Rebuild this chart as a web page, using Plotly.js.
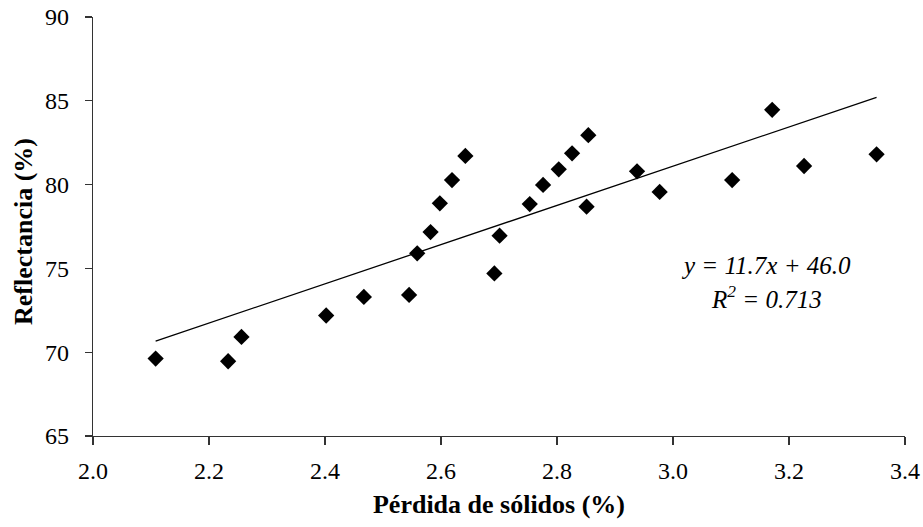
<!DOCTYPE html>
<html>
<head>
<meta charset="utf-8">
<script src="https://cdn.plot.ly/plotly-3.0.1.min.js"></script>
<style>html,body{margin:0;padding:0;background:#fff;}#chart{width:923px;height:527px;}</style>
</head>
<body>
<div id="chart"></div>
<script>
// Data
const perdidaSolidos = [2.108, 2.233, 2.256, 2.402, 2.467, 2.545, 2.559, 2.582, 2.598, 2.619, 2.642, 2.692, 2.701,
  2.753, 2.776, 2.803, 2.826, 2.854, 2.851, 2.938, 2.977, 3.102, 3.171, 3.226, 3.351];
const reflectancia = [69.62, 69.46, 70.91, 72.19, 73.30, 73.42, 75.90, 77.17, 78.88, 80.27, 81.71, 74.70, 76.95,
  78.84, 79.98, 80.91, 81.87, 82.95, 78.68, 80.79, 79.56, 80.27, 84.46, 81.11, 81.81];
const trendSlope = 11.7;
const trendIntercept = 46.0;
const rSquared = 0.713;
const xTickVals = [2.0, 2.2, 2.4, 2.6, 2.8, 3.0, 3.2, 3.4];
const yTickVals = [65, 70, 75, 80, 85, 90];
const xTitle = 'Pérdida de sólidos (%)';
const yTitle = 'Reflectancia (%)';

const xMin = Math.min(...perdidaSolidos), xMax = Math.max(...perdidaSolidos);
const trendX = [xMin, xMax];
const trendY = trendX.map(x => trendSlope * x + trendIntercept);

const serif = "Liberation Serif, Times New Roman, serif";

const traces = [
  {x: trendX, y: trendY, type: 'scatter', mode: 'lines',
   line: {color: '#000', width: 1.3}, hoverinfo: 'skip'},
  {x: perdidaSolidos, y: reflectancia, type: 'scatter', mode: 'markers',
   marker: {symbol: 'diamond', size: 12.5, color: '#000'}}
];

const plotL = 93, plotR = 905, plotT = 17, plotB = 436;
const pw = plotR - plotL, ph = plotB - plotT;

const layout = {
  width: 923, height: 527,
  margin: {l: plotL, r: 923 - plotR, t: plotT, b: 527 - plotB},
  paper_bgcolor: '#fff', plot_bgcolor: '#fff',
  showlegend: false,
  font: {family: serif, size: 24, color: '#000'},
  xaxis: {
    range: [2.0, 3.4], tickvals: xTickVals, ticktext: xTickVals.map(v => v.toFixed(1)),
    showgrid: false, zeroline: false, showline: true, linecolor: '#333', linewidth: 1.3,
    ticks: 'outside', ticklen: 8, tickcolor: '#333', tickwidth: 1.3,
    ticklabelstandoff: 5,
    tickfont: {family: serif, size: 24},
    title: {text: '<b>' + xTitle + '</b>', font: {family: serif, size: 26}, standoff: 11}
  },
  yaxis: {
    range: [65, 90], tickvals: yTickVals,
    showgrid: false, zeroline: false, showline: true, linecolor: '#333', linewidth: 1.3,
    ticks: 'outside', ticklen: 7, tickcolor: '#333', tickwidth: 1.3,
    ticklabelstandoff: 11,
    tickfont: {family: serif, size: 24}
  },
  annotations: [
    {xref: 'paper', yref: 'paper', x: (23 - plotL) / pw, y: (plotB - 232) / ph,
     text: '<b>' + yTitle + '</b>', textangle: -90,
     showarrow: false, xanchor: 'center', yanchor: 'middle', font: {family: serif, size: 26}},
    {xref: 'paper', yref: 'paper', x: (766 - plotL) / pw, y: (plotB - 265) / ph,
     text: '<i>y = ' + trendSlope.toFixed(1) + 'x + ' + trendIntercept.toFixed(1) + '</i>',
     showarrow: false, xanchor: 'center', yanchor: 'middle', font: {family: serif, size: 25}},
    {xref: 'paper', yref: 'paper', x: (766 - plotL) / pw, y: (plotB - 297) / ph,
     text: '<i>R<sup>2</sup> = ' + rSquared.toFixed(3) + '</i>',
     showarrow: false, xanchor: 'center', yanchor: 'middle', font: {family: serif, size: 25}}
  ]
};

Plotly.newPlot('chart', traces, layout, {displayModeBar: false, staticPlot: true});
</script>
</body>
</html>
